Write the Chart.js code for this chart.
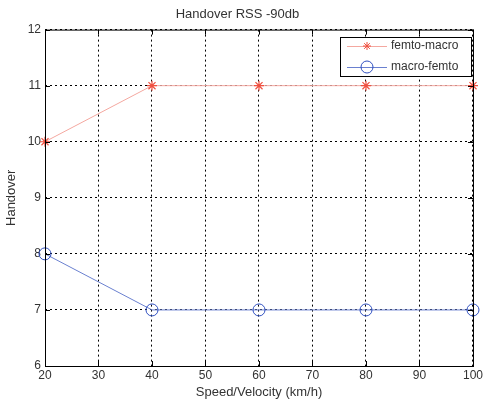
<!DOCTYPE html>
<html>
<head>
<meta charset="utf-8">
<script src="https://cdn.jsdelivr.net/npm/chart.js@4/dist/chart.umd.min.js"></script>
<style>
  body { margin: 0; background: #fff; }
  #wrap { width: 485px; height: 400px; }
</style>
</head>
<body>
<div id="wrap"><canvas id="myChart" width="485" height="400"></canvas></div>
<script>
// data
const speeds = [20, 40, 60, 80, 100];
const femtoMacro = [10, 11, 11, 11, 11];
const macroFemto = [8, 7, 7, 7, 7];
const xTicks = [20, 30, 40, 50, 60, 70, 80, 90, 100];
const yTicks = [6, 7, 8, 9, 10, 11, 12];

const FONT = 'Liberation Sans, Arial, sans-serif';

// box round the plot, inward tick marks and the legend inside the plot
const boxPlugin = {
  id: 'box',
  afterDraw(chart) {
    const ctx = chart.ctx;
    const a = chart.chartArea;
    const xs = chart.scales.x, ys = chart.scales.y;
    ctx.save();
    ctx.strokeStyle = '#000';
    ctx.lineWidth = 1;
    ctx.setLineDash([]);
    ctx.strokeRect(a.left + 0.5, a.top + 0.5, a.right - a.left, a.bottom - a.top);
    ctx.beginPath();
    xTicks.forEach(v => {
      const x = Math.round(xs.getPixelForValue(v)) + 0.5;
      ctx.moveTo(x, a.bottom); ctx.lineTo(x, a.bottom - 5);
      ctx.moveTo(x, a.top); ctx.lineTo(x, a.top + 5);
    });
    yTicks.forEach(v => {
      const y = Math.round(ys.getPixelForValue(v)) + 0.5;
      ctx.moveTo(a.left, y); ctx.lineTo(a.left + 5, y);
      ctx.moveTo(a.right, y); ctx.lineTo(a.right - 5, y);
    });
    ctx.stroke();

    // legend
    const lx = 340, ly = 37, lw = 131, lh = 39;
    ctx.fillStyle = '#fff';
    ctx.fillRect(lx, ly, lw, lh);
    ctx.strokeRect(lx + 0.5, ly + 0.5, lw, lh);
    ctx.font = '12px ' + FONT;
    ctx.textBaseline = 'middle';
    chart.data.datasets.forEach((ds, i) => {
      const y = ly + 9 + i * 21;
      ctx.strokeStyle = ds.borderColor;
      ctx.beginPath();
      ctx.moveTo(lx + 7, y + 0.5); ctx.lineTo(lx + 47, y + 0.5);
      ctx.stroke();
      ctx.strokeStyle = ds.pointBorderColor;
      ctx.beginPath();
      if (ds.pointStyle === 'star') {
        for (let k = 0; k < 4; k++) {
          const ang = k * Math.PI / 4;
          ctx.moveTo(lx + 27 - 4 * Math.cos(ang), y - 4 * Math.sin(ang));
          ctx.lineTo(lx + 27 + 4 * Math.cos(ang), y + 4 * Math.sin(ang));
        }
      } else {
        ctx.arc(lx + 27, y, 6, 0, Math.PI * 2);
      }
      ctx.stroke();
      ctx.fillStyle = '#333';
      ctx.fillText(ds.label, lx + 51, y);
    });
    ctx.restore();
  }
};

const config = {
  type: 'line',
  data: {
    datasets: [
      {
        label: 'femto-macro',
        data: speeds.map((s, i) => ({ x: s, y: femtoMacro[i] })),
        borderColor: '#f4a8a0',
        borderWidth: 1,
        pointStyle: 'star',
        pointRadius: 5,
        pointBorderColor: '#f05040',
        pointBorderWidth: 1.2,
        pointBackgroundColor: '#f05040',
        clip: false
      },
      {
        label: 'macro-femto',
        data: speeds.map((s, i) => ({ x: s, y: macroFemto[i] })),
        borderColor: '#6a80d0',
        borderWidth: 1,
        pointStyle: 'circle',
        pointRadius: 6,
        pointBorderColor: '#3050c0',
        pointBorderWidth: 1,
        pointBackgroundColor: 'rgba(255,255,255,0)',
        clip: false
      }
    ]
  },
  options: {
    responsive: false,
    animation: false,
    layout: { padding: { top: 0, right: 10, bottom: 0, left: 0 } },
    plugins: {
      legend: { display: false },
      tooltip: { enabled: false },
      title: {
        display: true,
        text: 'Handover RSS -90db',
        color: '#333',
        font: { family: FONT, size: 13, weight: 'normal' },
        padding: { top: 7, bottom: 7 }
      }
    },
    scales: {
      x: {
        type: 'linear',
        min: 20,
        max: 100,
        afterBuildTicks: s => { s.ticks = xTicks.map(v => ({ value: v })); },
        grid: { color: '#000', lineWidth: 1, drawTicks: false },
        border: { display: false, dash: [2, 3] },
        ticks: { color: '#333', font: { family: FONT, size: 12 }, padding: 2, maxRotation: 0 },
        title: {
          display: true,
          text: 'Speed/Velocity (km/h)',
          color: '#333',
          font: { family: FONT, size: 13 },
          padding: { top: 0, bottom: 0 }
        }
      },
      y: {
        min: 6,
        max: 12,
        afterBuildTicks: s => { s.ticks = yTicks.map(v => ({ value: v })); },
        afterFit: s => { s.width = 45; },
        grid: { color: '#000', lineWidth: 1, drawTicks: false },
        border: { display: false, dash: [2, 3] },
        ticks: { color: '#333', font: { family: FONT, size: 12 }, padding: 4 },
        title: {
          display: true,
          text: 'Handover',
          color: '#333',
          font: { family: FONT, size: 13 },
          padding: { top: 4, bottom: 4 }
        }
      }
    }
  },
  plugins: [boxPlugin]
};

var myChart = new Chart(document.getElementById('myChart'), config);
</script>
</body>
</html>
